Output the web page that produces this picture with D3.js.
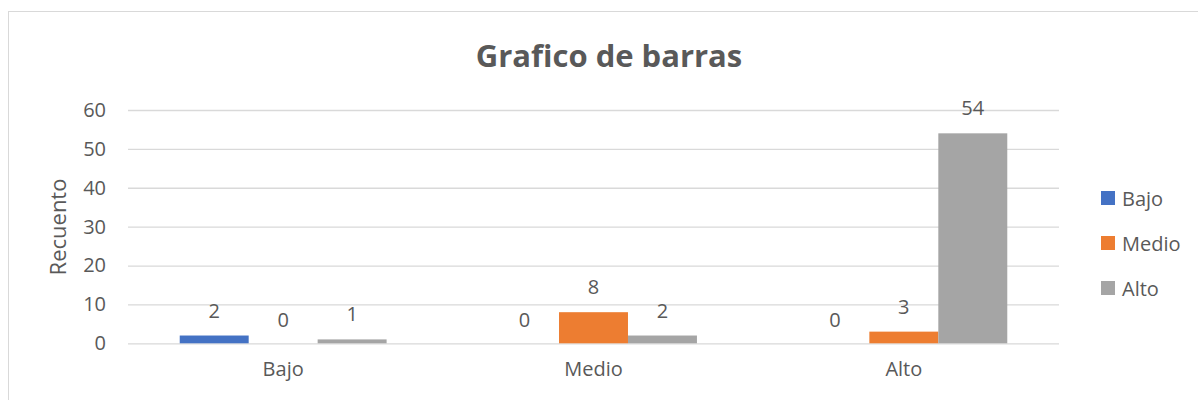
<!DOCTYPE html>
<html><head><meta charset="utf-8">
<script src="https://cdn.jsdelivr.net/npm/d3@7"></script>
<style>body{margin:0;background:#fff}svg{display:block}</style>
</head><body>
<svg id="c" width="1198" height="400"></svg>
<script>
const categories = ["Bajo", "Medio", "Alto"];
const seriesNames = ["Bajo", "Medio", "Alto"];
const seriesBajo = [2, 0, 0];
const seriesMedio = [0, 8, 3];
const seriesAlto = [1, 2, 54];
const yTicks = [0, 10, 20, 30, 40, 50, 60];
const colors = ["#4472C4", "#ED7D31", "#A5A5A5"];
const seriesValues = [seriesBajo, seriesMedio, seriesAlto];

(function () {
const svg = d3.select("#c");
const font = "'Open Sans', sans-serif";
const txt = "#595959";
const fs = "20px";

svg.append("rect").attr("x", 8.5).attr("y", 11.5).attr("width", 1300).attr("height", 500)
  .attr("fill", "#fff").attr("stroke", "#d9d9d9").attr("stroke-width", 1);

const pLeft = 128, pRight = 1059, pTop = 110, pBottom = 343.3;
const x0 = d3.scaleBand().domain(categories).range([pLeft, pRight]).paddingInner(0).paddingOuter(0);
const x1 = d3.scaleBand().domain(seriesNames).range([0, x0.bandwidth()]).paddingInner(0).paddingOuter(0.75);
const y = d3.scaleLinear().domain([0, 60]).range([pBottom, pTop]);

const yAxis = d3.axisLeft(y).tickValues(yTicks).tickSize(-(pRight - pLeft)).tickPadding(22);
const gy = svg.append("g").attr("transform", `translate(${pLeft},0)`).call(yAxis);
gy.select(".domain").remove();
gy.selectAll(".tick line").attr("stroke", "#d9d9d9").attr("stroke-width", 1.3);
gy.selectAll(".tick text").attr("fill", txt).style("font-family", font).style("font-size", fs);

const xAxis = d3.axisBottom(x0).tickSize(0).tickPadding(19);
const gx = svg.append("g").attr("transform", `translate(0,${pBottom})`).call(xAxis);
gx.select(".domain").remove();
gx.selectAll(".tick text").attr("fill", txt).style("font-family", font).style("font-size", fs);

const data = [];
categories.forEach((c, ci) => seriesNames.forEach((s, si) => data.push({c, s, si, v: seriesValues[si][ci]})));

svg.append("g").selectAll("rect").data(data).join("rect")
  .attr("x", d => x0(d.c) + x1(d.s))
  .attr("y", d => y(d.v))
  .attr("width", x1.bandwidth())
  .attr("height", d => y(0) - y(d.v))
  .attr("fill", d => colors[d.si]);

svg.append("g").selectAll("text").data(data).join("text")
  .attr("x", d => x0(d.c) + x1(d.s) + x1.bandwidth() / 2)
  .attr("y", d => y(d.v) - (d.v === 0 ? 16 : 18))
  .attr("text-anchor", "middle")
  .attr("fill", txt).style("font-family", font).style("font-size", fs)
  .text(d => d.v);

svg.append("text").attr("x", 609).attr("y", 67).attr("text-anchor", "middle")
  .attr("fill", txt).style("font-family", font).style("font-size", "31px").style("font-weight", "bold")
  .text("Grafico de barras");

svg.append("text").attr("transform", "translate(66,227) rotate(-90)").attr("text-anchor", "middle")
  .attr("fill", txt).style("font-family", font).style("font-size", "22px")
  .text("Recuento");

const lg = svg.append("g").selectAll("g").data(seriesNames).join("g")
  .attr("transform", (d, i) => `translate(1101,${191 + i * 45})`);
lg.append("rect").attr("width", 14).attr("height", 14).attr("fill", (d, i) => colors[i]);
lg.append("text").attr("x", 21).attr("y", 14.5).attr("fill", txt)
  .style("font-family", font).style("font-size", fs).text(d => d);
})();
</script>
</body></html>
